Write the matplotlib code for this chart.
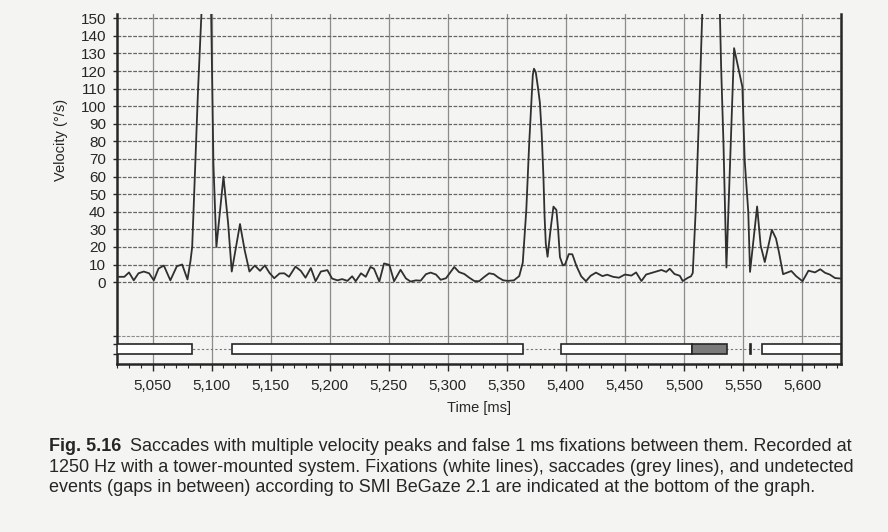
import matplotlib.pyplot as plt
from matplotlib.patches import Rectangle
from matplotlib.ticker import FixedLocator, MultipleLocator

plt.rcParams['font.family'] = ['Liberation Sans', 'DejaVu Sans']

# velocity trace (ms, deg/s); values above the frame are guesses
time_ms = [5021, 5026, 5030, 5034, 5038, 5042.5, 5047, 5051, 5055, 5059.5,
           5065, 5070.5, 5075, 5079.5, 5082, 5083.5, 5088.5, 5091.5, 5094, 5097,
           5099.5, 5101.5, 5104, 5110, 5114, 5117, 5124, 5128, 5132, 5136.5,
           5141, 5145, 5149, 5153, 5157.5, 5161.5, 5165.5, 5171, 5175.5, 5179.5,
           5184, 5188, 5192.5, 5198, 5202, 5206.5, 5210.5, 5215, 5219, 5222,
           5226.5, 5230.5, 5234.5, 5237.5, 5242, 5246, 5250.5, 5254.5, 5260, 5264.5,
           5268.5, 5273, 5277, 5281.5, 5285.5, 5290, 5294, 5298.5, 5302.5, 5305.5,
           5309.5, 5314, 5318, 5322.5, 5326.5, 5331, 5335, 5339, 5343, 5347,
           5351, 5356, 5360.5, 5363.5, 5366.5, 5369, 5372, 5373, 5374.5, 5376.5,
           5378, 5379.5, 5381, 5382, 5383, 5384.5, 5387, 5389.5, 5392, 5393.5,
           5395, 5397.5, 5399.5, 5402.5, 5405.5, 5409, 5413, 5417, 5421, 5425.5,
           5431, 5435, 5440, 5445, 5450, 5455.5, 5459.5, 5464, 5468, 5472.5,
           5476.5, 5481, 5485, 5488, 5492, 5496.5, 5499, 5503.5, 5506, 5507.5,
           5510, 5513, 5515.5, 5519, 5523, 5527, 5530.5, 5531.5, 5533.5, 5536,
           5542.5, 5546.5, 5549.5, 5551.5, 5554.5, 5556, 5562, 5565, 5568.5, 5574.5,
           5578, 5580.5, 5584, 5591, 5595, 5600.5, 5605.5, 5611, 5615.5, 5619.5,
           5623.5, 5628, 5633]
velocity = [3, 3, 5.5, 1, 5, 6, 5, 1, 7.7, 9.4,
            1, 9, 10, 1.5, 11.7, 20, 110, 155, 230, 215,
            155, 67, 20, 60, 33, 6, 33, 18, 6, 9.4,
            6.4, 9.5, 5.2, 2.2, 4.9, 5, 3, 8.8, 6.4, 2.5,
            8, 0.5, 6, 6.8, 2, 1, 1.7, 0.7, 3.3, 0.5,
            5, 3, 8.6, 7.6, 0.3, 10.6, 9.8, 0.5, 7, 2.1,
            0.3, 1, 0.8, 4.5, 5.4, 4.3, 1.3, 2.2, 5.8, 8.6,
            5.7, 4.6, 2.6, 0.6, 0.5, 3, 5, 4.5, 2.5, 1,
            0.7, 1, 3.4, 11, 41, 79.5, 117.6, 121.3, 119.4, 110,
            102, 85, 60, 37, 22, 14.4, 29.6, 42.9, 41, 29.4,
            14.2, 9.4, 10.3, 15.9, 15.8, 9.1, 3.3, 0.5, 3.6, 5.4,
            3.4, 4.2, 3, 2.5, 4.3, 3.7, 5.5, 0.6, 4.3, 5.2,
            6, 6.9, 5.8, 7.6, 4.6, 3.6, 0.6, 2.5, 3.3, 5.2,
            41, 98.5, 152, 250, 280, 240, 152, 122.8, 79, 8.3,
            133, 120.5, 111, 69, 40, 5.8, 43, 20.8, 11.4, 29.7,
            24.7, 17, 4.5, 6.3, 3.4, 0.5, 6.5, 5.5, 7.3, 5.3,
            4.3, 2.3, 2]

# detected events at the bottom of the graph
fix_start = [5020, 5117, 5396, 5556, 5566.5]
fix_end = [5083, 5364, 5507, 5557, 5633]
sacc_start = [5507]
sacc_end = [5536.5]

x_ticks = list(range(5050, 5601, 50))
y_ticks = list(range(0, 151, 10))

caption_bold = "Fig. 5.16"
caption_lines = [
    "Saccades with multiple velocity peaks and false 1 ms fixations between them. Recorded at",
    "1250 Hz with a tower-mounted system. Fixations (white lines), saccades (grey lines), and undetected",
    "events (gaps in between) according to SMI BeGaze 2.1 are indicated at the bottom of the graph.",
]

paper = '#f4f4f2'
ink = '#262626'

fig = plt.figure(figsize=(8.88, 5.32), dpi=100, facecolor=paper)
ax = fig.add_axes([0.132, 0.316, 0.815, 0.658], facecolor=paper)

xmin, xmax = 5020, 5633
ymin, ymax = -46.5, 152.5
ax.set_xlim(xmin, xmax)
ax.set_ylim(ymin, ymax)

# grid
for t in x_ticks:
    ax.axvline(t, color='#8c8c8c', lw=0.9, zorder=1)
for v in y_ticks:
    ax.axhline(v, color='#666666', lw=0.9, ls=(0, (3, 1.2)), zorder=1)
ax.axhline(-30.6, color='#8c8c8c', lw=0.8, ls=(0, (3, 1.2)), zorder=1)

# event bars
bar_lo, bar_hi = -41, -35.2
bar_mid = (bar_lo + bar_hi) / 2
ax.plot([xmin, xmax], [bar_mid, bar_mid], color='#777777', lw=0.8, ls=(0, (2, 2)), zorder=2)
for s, e in zip(fix_start, fix_end):
    ax.add_patch(Rectangle((s, bar_lo), e - s, bar_hi - bar_lo, facecolor='white',
                           edgecolor=ink, lw=1.2, zorder=3))
for s, e in zip(sacc_start, sacc_end):
    ax.add_patch(Rectangle((s, bar_lo), e - s, bar_hi - bar_lo, facecolor='#7a7a7a',
                           edgecolor=ink, lw=1.2, zorder=3))

ax.plot(time_ms, velocity, color='#303030', lw=1.3, zorder=4)

# axes styling
ax.spines['top'].set_visible(False)
for side in ['left', 'bottom', 'right']:
    ax.spines[side].set_linewidth(1.8)
    ax.spines[side].set_color(ink)

ax.set_yticks(y_ticks)
ax.yaxis.set_minor_locator(FixedLocator([-30.6, -35.2, -41]))
ax.set_xticks(x_ticks)
ax.set_xticklabels([f"{t:,}" for t in x_ticks])
ax.xaxis.set_minor_locator(MultipleLocator(10))
ax.tick_params(axis='y', which='major', length=3, width=1, pad=5, labelsize=11, colors=ink)
ax.tick_params(axis='y', which='minor', length=3, width=1, colors=ink)
ax.tick_params(axis='x', which='major', length=5, width=1, pad=6, labelsize=11, colors=ink)
ax.tick_params(axis='x', which='minor', length=3, width=0.8, colors=ink)

ax.set_ylabel('Velocity (°/s)', fontsize=10.5, color=ink, labelpad=3)
ax.yaxis.set_label_coords(-0.068, 0.64)
ax.set_xlabel('Time [ms]', fontsize=10.5, color=ink, labelpad=6)

# caption
ys = [0.16, 0.122, 0.084]
x0 = 0.055
cap_size = 13
bold = fig.text(x0, ys[0], caption_bold, fontsize=cap_size, fontweight='bold', color=ink, va='center')
fig.canvas.draw()
bb = bold.get_window_extent()
x1 = (bb.x1 + 9) / fig.bbox.width
fig.text(x1, ys[0], caption_lines[0], fontsize=cap_size, color=ink, va='center')
fig.text(x0, ys[1], caption_lines[1], fontsize=cap_size, color=ink, va='center')
fig.text(x0, ys[2], caption_lines[2], fontsize=cap_size, color=ink, va='center')

fig.savefig('out.png', dpi=100, facecolor=paper)
